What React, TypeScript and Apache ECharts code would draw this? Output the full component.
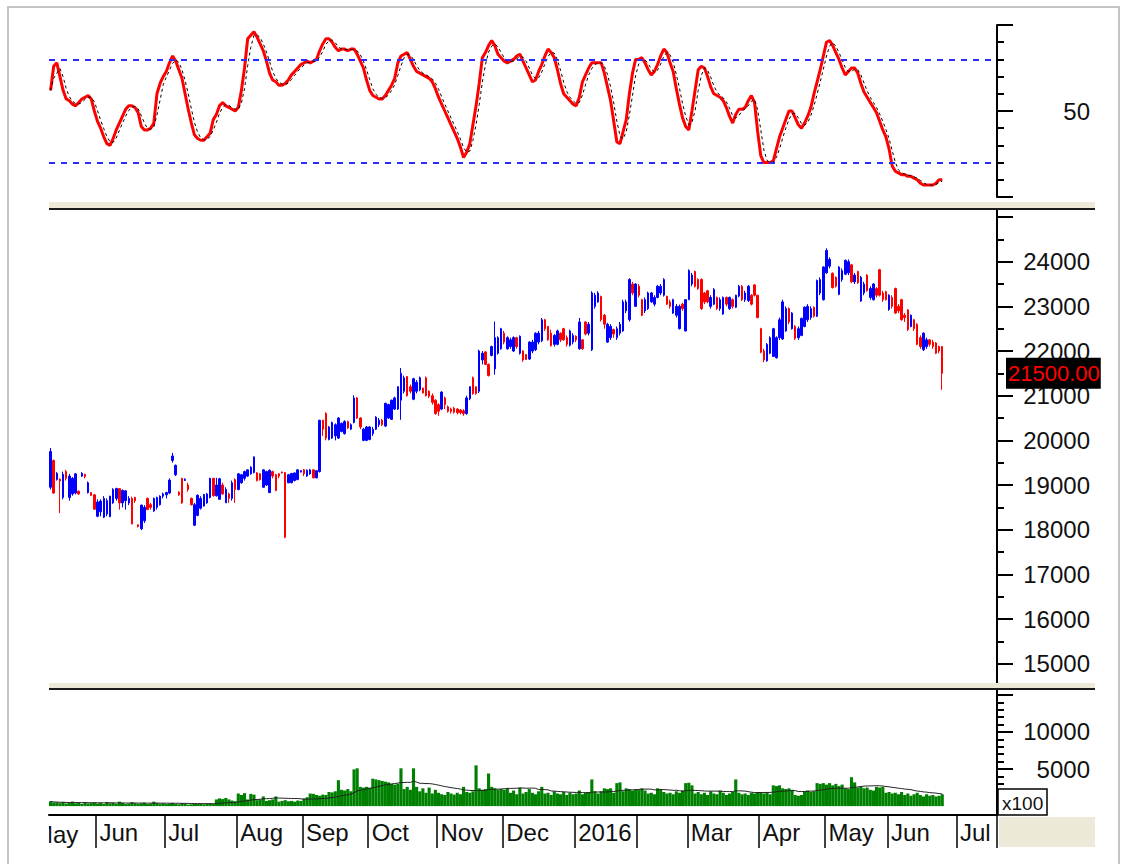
import React, { useEffect, useRef } from 'react';
import * as echarts from 'echarts';

// ---- x axis: trading-day slots per month (first month only partly visible) ----
const monthLabels = ['May', 'Jun', 'Jul', 'Aug', 'Sep', 'Oct', 'Nov', 'Dec', '2016', '', 'Mar', 'Apr', 'May', 'Jun', 'Jul'];
const monthSlots = [15, 22, 23, 21, 21, 22, 21, 23, 20, 16, 23, 21, 20, 22, 13];

// ---- tick labels ----
const stochLabels = [50];
const stochMajorTicks = [0, 50, 100];
const stochMinorTicks = [10, 20, 30, 40, 60, 70, 80, 90];
const stochBands = [80, 20];
const priceLabels = [15000, 16000, 17000, 18000, 19000, 20000, 21000, 22000, 23000, 24000];
const priceMajorTicks = [15000, 16000, 17000, 18000, 19000, 20000, 21000, 22000, 23000, 24000, 25000];
const priceMinorTicks = [14500, 15500, 16500, 17500, 18500, 19500, 20500, 21500, 22500, 23500, 24500];
const volumeLabels = [5000, 10000];
const volumeMajorTicks = [5000, 10000, 15000];
const volumeMinorTicks = [0, 1000, 2000, 3000, 4000, 6000, 7000, 8000, 9000, 11000, 12000, 13000, 14000];
const lastPrice = 21500;

// ---- daily prices: [open, close, low, high] ----
const ohlc: number[][] = [
  // May 2015
  [18950, 19750, 18900, 19830], [19550, 18820, 18800, 19570], [19120, 19260, 19100, 19290], [19130, 19090, 18370, 19150],
  [18720, 19240, 18680, 19300], [19300, 19150, 19100, 19340], [18720, 19200, 18650, 19250], [18800, 19150, 18760, 19180],
  [18820, 19250, 18790, 19270], [18860, 18800, 18780, 18880], [19200, 19260, 19180, 19290], [19240, 19190, 19150, 19250],
  [18830, 19050, 18810, 19080], [18830, 18770, 18750, 18840], [18780, 18460, 18440, 18800],
  // Jun
  [18300, 18620, 18280, 18680], [18400, 18640, 18300, 18680], [18280, 18700, 18260, 18750], [18350, 18650, 18300, 18700],
  [18290, 18750, 18280, 18760], [18600, 18900, 18580, 18930], [18700, 18920, 18650, 18940], [18920, 18600, 18450, 18930],
  [18600, 18880, 18500, 18900], [18650, 18870, 18450, 18880], [18600, 18700, 18550, 18750], [18700, 18130, 18120, 18740],
  [18720, 18650, 18600, 18740], [18110, 18070, 18050, 18120], [18020, 18550, 17990, 18560], [18200, 18500, 18150, 18550],
  [18700, 18450, 18440, 18720], [18560, 18500, 18450, 18600], [18420, 18700, 18400, 18720], [18500, 18720, 18450, 18740],
  [18560, 18750, 18540, 18770], [18750, 18800, 18700, 18830],
  // Jul
  [18780, 18830, 18700, 18850], [18820, 19110, 18800, 19150], [19550, 19650, 19500, 19720], [19230, 19440, 19200, 19460],
  [18840, 18780, 18760, 18860], [19150, 18600, 18580, 19160], [19100, 19130, 19090, 19150], [19000, 18900, 18850, 19050],
  [18700, 18560, 18540, 18720], [18100, 18560, 18080, 18600], [18320, 18770, 18300, 18790], [18480, 18700, 18450, 18750],
  [18530, 18790, 18520, 18800], [18600, 18800, 18580, 18820], [18720, 19150, 18700, 19160], [19150, 18760, 18740, 19160],
  [18760, 19000, 18740, 19160], [18680, 19140, 18670, 19160], [19000, 18800, 18780, 19050], [18600, 18900, 18600, 18950],
  [18800, 18700, 18600, 18830], [18700, 19050, 18650, 19100], [19120, 18900, 18600, 19150],
  // Aug
  [18900, 19250, 18880, 19270], [19050, 19230, 19030, 19250], [19150, 19300, 19100, 19320], [19200, 19340, 19180, 19350],
  [19250, 19400, 19230, 19420], [19280, 19630, 19260, 19640], [19270, 19100, 19080, 19290], [19250, 19120, 19100, 19270],
  [18950, 19340, 18940, 19350], [19000, 19300, 18980, 19320], [18830, 19330, 18820, 19350], [19300, 19200, 19150, 19320],
  [19230, 18880, 18860, 19250], [19250, 19200, 19150, 19270], [19290, 19270, 19260, 19300], [19280, 17830, 17810, 19290],
  [19050, 19230, 19040, 19250], [19050, 19260, 19040, 19270], [19100, 19270, 19080, 19280], [19120, 19340, 19110, 19350],
  [19290, 19320, 19280, 19330],
  // Sep
  [19340, 19250, 19200, 19360], [19200, 19330, 19180, 19350], [19250, 19340, 19230, 19360], [19340, 19160, 19150, 19350],
  [19160, 19320, 19150, 19330], [19300, 20450, 19280, 20460], [20450, 20250, 20100, 20460], [20600, 20050, 20000, 20630],
  [20020, 20300, 20000, 20320], [20050, 20400, 20030, 20420], [20100, 20350, 20000, 20380], [20050, 20500, 20030, 20520],
  [20200, 20380, 20180, 20400], [20150, 20420, 20130, 20450], [20420, 20280, 20250, 20440], [20250, 20350, 20230, 20380],
  [20400, 20950, 20380, 21010], [20950, 20500, 20480, 20970], [20500, 20300, 20250, 20520], [20000, 20250, 19980, 20280],
  [20000, 20300, 19980, 20320],
  // Oct
  [20020, 20300, 20000, 20320], [20150, 20250, 20100, 20300], [20250, 20520, 20230, 20540], [20350, 20450, 20300, 20500],
  [20450, 20350, 20320, 20480], [20320, 20830, 20300, 20840], [20500, 20800, 20480, 20820], [20470, 20900, 20460, 20910],
  [20700, 20950, 20680, 20980], [20700, 21200, 20680, 21210], [20900, 21500, 20460, 21620], [21100, 21400, 21050, 21450],
  [21430, 21000, 20980, 21440], [21200, 21100, 21050, 21250], [20920, 21380, 20900, 21400], [21100, 21300, 21050, 21350],
  [21130, 21400, 21100, 21430], [21170, 21060, 21050, 21180], [21400, 21000, 20980, 21430], [21100, 20990, 20950, 21120],
  [21000, 20850, 20800, 21050], [20900, 20600, 20570, 20920],
  // Nov
  [20800, 20650, 20550, 20830], [20700, 21080, 20680, 21100], [20950, 20800, 20700, 20980], [20750, 20650, 20620, 20780],
  [20700, 20650, 20600, 20730], [20720, 20630, 20600, 20750], [20700, 20620, 20580, 20720], [20680, 20620, 20580, 20700],
  [20660, 20600, 20550, 20700], [20600, 20950, 20570, 21000], [20930, 21200, 20900, 21210], [21400, 21050, 21020, 21430],
  [21200, 21050, 21020, 21210], [21100, 22000, 21060, 22030], [21800, 21950, 21700, 22000], [21980, 21700, 21690, 22000],
  [21700, 21450, 21430, 21720], [21900, 22100, 21880, 22120], [21600, 22300, 21470, 22660], [21950, 22300, 21920, 22330],
  [22050, 22500, 22030, 22520],
  // Dec
  [22400, 22200, 22150, 22450], [22050, 22300, 22030, 22330], [22100, 22250, 22050, 22300], [22000, 22300, 21980, 22330],
  [22300, 22100, 22050, 22320], [21950, 22330, 21920, 22350], [22000, 21800, 21760, 22020], [21920, 21810, 21800, 21930],
  [21820, 22200, 21800, 22220], [22000, 22200, 21950, 22250], [22030, 22400, 22000, 22420], [22200, 22400, 22150, 22450],
  [22230, 22700, 22200, 22740], [22700, 22500, 22450, 22720], [22550, 22250, 22230, 22560], [22400, 22120, 22100, 22480],
  [22150, 22350, 22100, 22380], [22150, 22450, 22130, 22480], [22400, 22250, 22200, 22420], [22500, 22250, 22230, 22520],
  [22300, 22150, 22100, 22350], [22130, 22450, 22100, 22480], [22200, 22350, 22150, 22400],
  // Jan 2016
  [22330, 22250, 22200, 22350], [22050, 22650, 22030, 22740], [22250, 22050, 22030, 22270], [22650, 22380, 22350, 22670],
  [22400, 22600, 22350, 22650], [22030, 23300, 22000, 23340], [23000, 23250, 22950, 23300], [23100, 23300, 23080, 23340],
  [23220, 22700, 22660, 23240], [22800, 22600, 22500, 22830], [22200, 22600, 22180, 22630], [22300, 22550, 22250, 22600],
  [22480, 22380, 22300, 22500], [22300, 22500, 22250, 22550], [22400, 22600, 22350, 22650], [22450, 23100, 22430, 23150],
  [22900, 23100, 22850, 23150], [22700, 23600, 22660, 23630], [23500, 23300, 23250, 23550], [23000, 23500, 22990, 23520],
  // Feb
  [23450, 23250, 23200, 23500], [23150, 22800, 22780, 23170], [22900, 23150, 22850, 23200], [22950, 23300, 22920, 23330],
  [23100, 23300, 23080, 23320], [23050, 23200, 23000, 23250], [23200, 23450, 23180, 23480], [23300, 23450, 23250, 23500],
  [23250, 23600, 23220, 23630], [23220, 23050, 23030, 23240], [23100, 23000, 22950, 23150], [22850, 23150, 22830, 23170],
  [22800, 23000, 22750, 23050], [22500, 23000, 22480, 23040], [23050, 22950, 22900, 23080], [22450, 23150, 22440, 23160],
  // Mar
  [23150, 23800, 23140, 23830], [23500, 23700, 23450, 23750], [23780, 23450, 23420, 23800], [23600, 23400, 23370, 23630],
  [23600, 22950, 22920, 23630], [23300, 23100, 23050, 23320], [23350, 23100, 23070, 23370], [23000, 23200, 22950, 23250],
  [23050, 23380, 23030, 23410], [23200, 22950, 22920, 23220], [22950, 23150, 22900, 23200], [22830, 23200, 22810, 23220],
  [23200, 23050, 23000, 23220], [22950, 23200, 22920, 23220], [23150, 23000, 22950, 23180], [22980, 23250, 22960, 23260],
  [23230, 23450, 23200, 23480], [23450, 23150, 23120, 23480], [23150, 23300, 23100, 23350], [23130, 23450, 23100, 23480],
  [23250, 23050, 23020, 23270], [23480, 23250, 23220, 23500], [23250, 22750, 22730, 23260],
  // Apr
  [22500, 21970, 21950, 22520], [22000, 21800, 21750, 22050], [21780, 22150, 21760, 22180], [21950, 22300, 21930, 22330],
  [21880, 22500, 21870, 22520], [21850, 22300, 21830, 22330], [22300, 22700, 22250, 22750], [22270, 23100, 22250, 23150],
  [22450, 22950, 22430, 23000], [22950, 22650, 22600, 22980], [22500, 22850, 22480, 22870], [22550, 22280, 22250, 22580],
  [22300, 22500, 22250, 22550], [22350, 22730, 22330, 22750], [22550, 22980, 22530, 23000], [22700, 23000, 22650, 23050],
  [22750, 22950, 22700, 23000], [22980, 22780, 22750, 23000], [22780, 23580, 22760, 23600], [23300, 23600, 23250, 23650],
  [23150, 23880, 23130, 23900],
  // May
  [23750, 24250, 23730, 24300], [23900, 24050, 23850, 24100], [23740, 23420, 23400, 23760], [23650, 23450, 23420, 23670],
  [23270, 23880, 23250, 23900], [23600, 23800, 23550, 23850], [23720, 24030, 23700, 24050], [23750, 24000, 23700, 24050],
  [23930, 23550, 23520, 23950], [23550, 23700, 23500, 23750], [23780, 23530, 23500, 23800], [23120, 23650, 23100, 23680],
  [23300, 23500, 23250, 23550], [23700, 23350, 23330, 23720], [23200, 23400, 23150, 23450], [23150, 23500, 23130, 23520],
  [23400, 23250, 23200, 23430], [23820, 23250, 23220, 23840], [23300, 23150, 23100, 23350], [23330, 23150, 23130, 23350],
  // Jun
  [22930, 23250, 22900, 23270], [23200, 23000, 22950, 23250], [23400, 22850, 22830, 23420], [23000, 22900, 22850, 23050],
  [23150, 22700, 22680, 23170], [22800, 22750, 22650, 22850], [22920, 22480, 22450, 22940], [22550, 22800, 22530, 22820],
  [22700, 22500, 22450, 22720], [22600, 22150, 22130, 22620], [22300, 22100, 22050, 22350], [22030, 22400, 22000, 22420],
  [22100, 22250, 22050, 22300], [22250, 22150, 22100, 22260], [22200, 22100, 22050, 22250], [22180, 21950, 21930, 22200],
  [22100, 22000, 21950, 22120], [22100, 21500, 21130, 22110],
];

// ---- daily volume (x100) ----
const volume = [
  650, 480, 520, 400, 560, 350, 420, 600, 380, 450, 300, 520, 360, 410, 480,
  350, 420, 300, 560, 380, 450, 320, 600, 420, 280, 350, 520, 400, 300, 380, 450, 280, 350, 600, 420, 300, 380,
  280, 350, 420, 300, 250, 380, 300, 200, 250, 300, 280, 320, 250, 300, 350, 280, 900, 1050, 950, 1100, 900, 750, 650,
  1700, 1500, 1750, 900, 1650, 1550, 800, 900, 1300, 700, 800, 900, 1300, 600, 700, 800, 650, 700, 600, 750, 700,
  1000, 1200, 1700, 1650, 1500, 1400, 1550, 1500, 1900, 1850, 2000, 3500, 2200, 2100, 2300, 2000, 4950, 5100, 2600, 2500, 2600,
  2500, 3700, 3600, 3500, 3400, 3300, 3200, 3000, 2900, 3000, 5100, 2300, 2600, 2200, 5100, 2600, 2000, 2400, 1800, 2500, 1700, 2200,
  1800, 1600, 1500, 1900, 1700, 1550, 1800, 1600, 2600, 1900, 1800, 2000, 5500, 2400, 2200, 2300, 4400, 2600, 2400, 2200, 2300,
  2200, 2400, 1800, 2100, 1600, 2500, 1700, 1900, 2300, 1800, 1600, 2000, 2600, 1700, 1800, 1500, 2000, 1700, 1600, 1900, 1500, 1800, 1600,
  1700, 2100, 1600, 1800, 1900, 3600, 2000, 1700, 2000, 2400, 2300, 2400, 1800, 3100, 3200, 2000, 2400, 2300, 2100, 2200,
  2200, 2400, 2100, 1700, 1800, 1600, 2400, 2300, 1900, 1700, 1800, 1600, 2000, 1800, 2100, 3100,
  3150, 2800, 1700, 1900, 1600, 1800, 1500, 2000, 1700, 1600, 2100, 1800, 1500, 1700, 1900, 3600, 1800, 1600, 1700, 1500, 1800, 1700, 1900,
  1900, 1700, 1800, 1600, 2800, 2700, 2800, 2400, 2300, 2400, 2200, 1500, 1400, 1500, 2000, 2100, 1900, 2000, 3100, 3000, 3100,
  2900, 3100, 2800, 3000, 2700, 2900, 2400, 2300, 3900, 3200, 2500, 2600, 2400, 2500, 2200, 2100, 2600, 2500, 2600, 1800,
  1900, 1700, 1800, 1600, 1900, 1500, 1700, 1400, 1600, 1800, 1500, 1300, 1600, 1400, 1500, 1300, 1400, 1600,
];

// ---- stochastic %K ----
const stochK = [
  62, 76, 78, 70, 62, 57, 56, 54, 53, 55, 57, 58, 59, 57, 50,
  44, 40, 35, 31, 30, 34, 39, 43, 47, 51, 53, 53, 52, 49, 41, 39, 39, 40, 43, 60, 66, 70,
  73, 78, 82, 79, 74, 69, 60, 51, 43, 36, 34, 33, 33, 35, 37, 45, 48, 53, 55, 53, 52, 51, 50,
  52, 62, 75, 92, 94, 96, 93, 89, 85, 79, 72, 68, 67, 65, 65, 66, 68, 71, 73, 75, 77,
  78, 79, 78, 79, 80, 85, 89, 92, 92, 90, 87, 85, 86, 86, 85, 86, 86, 83, 79, 75, 68,
  62, 59, 58, 57, 57, 59, 62, 65, 69, 78, 82, 83, 84, 80, 76, 73, 72, 71, 70, 69, 67, 63,
  58, 54, 50, 46, 42, 38, 34, 29, 23, 26, 31, 42, 53, 66, 81, 84, 88, 91, 88, 83, 81,
  79, 78, 79, 80, 82, 83, 79, 75, 71, 67, 68, 73, 77, 82, 86, 84, 81, 74, 66, 60, 58, 56, 54,
  53, 58, 67, 71, 75, 78, 78, 78, 78, 72, 64, 56, 44, 32, 31, 38, 45, 60, 72, 80,
  80, 81, 78, 74, 71, 73, 77, 82, 86, 84, 78, 73, 63, 54, 46, 41,
  39, 50, 62, 74, 76, 75, 70, 64, 60, 59, 58, 56, 52, 47, 43, 48, 51, 51, 52, 56, 59, 55, 38,
  24, 20, 20, 20, 21, 28, 35, 40, 45, 50, 50, 46, 42, 40, 43, 47, 52, 60, 67, 74, 82,
  90, 91, 88, 84, 80, 75, 71, 73, 75, 75, 72, 66, 61, 58, 55, 52, 49, 44, 39, 35,
  28, 18, 15, 14, 13, 13, 12, 12, 11, 10, 8, 7, 7, 7, 7, 8, 10, 10,
];

const FONT = '"Liberation Sans", Arial, sans-serif';

function sma(arr: number[], n: number): number[] {
  return arr.map((_, i) => {
    const s = Math.max(0, i - n + 1);
    let t = 0;
    for (let k = s; k <= i; k++) t += arr[k];
    return Math.round((t / (i - s + 1)) * 10) / 10;
  });
}

const categories: string[] = [];
const isMonthStart: boolean[] = [];
monthLabels.forEach((_, mi) => {
  for (let d = 0; d < monthSlots[mi]; d++) {
    categories.push(`${mi}|${d}`);
    isMonthStart.push(d === 0 && mi > 0);
  }
});

const stochD = sma(stochK, 3);
const volumeMA = sma(volume, 20);

function valueAxis(grid: number, min: number, max: number, major: number[], labels: number[]) {
  return {
    type: 'value', gridIndex: grid, min, max, position: 'right',
    splitLine: { show: false },
    axisLine: { show: true, lineStyle: { color: '#000', width: 2 } },
    axisTick: { show: true, length: 16, customValues: major, lineStyle: { color: '#000', width: 2 } },
    axisLabel: {
      show: true, customValues: labels, align: 'right', margin: 93,
      fontSize: 24, color: '#111', fontFamily: FONT,
      formatter: (v: number) => String(v),
    },
  };
}
function minorAxis(grid: number, min: number, max: number, minor: number[]) {
  return {
    type: 'value', gridIndex: grid, min, max, position: 'right',
    splitLine: { show: false },
    axisLine: { show: false },
    axisTick: { show: true, length: 7, customValues: minor, lineStyle: { color: '#000', width: 2 } },
    axisLabel: { show: false },
  };
}

const monthTick = (index: number) => !!isMonthStart[index];

const option: any = {
  animation: false,
  textStyle: { fontFamily: FONT },
  grid: [
    { left: 49, right: 126, top: 25, height: 172 },
    { left: 49, right: 126, top: 209, height: 477 },
    { left: 49, right: 126, top: 689, height: 126 },
  ],
  xAxis: [
    { type: 'category', gridIndex: 0, data: categories, boundaryGap: true, show: false },
    { type: 'category', gridIndex: 1, data: categories, boundaryGap: true, show: false },
    {
      type: 'category', gridIndex: 2, data: categories, boundaryGap: true,
      axisLine: { onZero: false, lineStyle: { color: '#000', width: 2 } },
      axisTick: { show: true, interval: monthTick, length: 33, lineStyle: { color: '#000', width: 1.5 } },
      axisLabel: {
        show: true, interval: monthTick, align: 'left', margin: 5, padding: [0, 0, 0, 2],
        fontSize: 24, color: '#111', fontFamily: FONT,
        formatter: (v: string) => monthLabels[Number(v.split('|')[0])],
      },
      splitLine: { show: false },
    },
  ],
  yAxis: [
    valueAxis(0, 0, 100, stochMajorTicks, stochLabels),
    minorAxis(0, 0, 100, stochMinorTicks),
    valueAxis(1, 14500, 25180, priceMajorTicks, priceLabels),
    minorAxis(1, 14500, 25180, priceMinorTicks),
    valueAxis(2, -1200, 15800, volumeMajorTicks, volumeLabels),
    minorAxis(2, -1200, 15800, volumeMinorTicks),
  ],
  series: [
    {
      name: 'bands', type: 'line', xAxisIndex: 0, yAxisIndex: 0, data: [], z: 1,
      markLine: {
        silent: true, symbol: 'none', label: { show: false },
        lineStyle: { color: '#2b2bff', type: [6, 6], width: 2 },
        data: stochBands.map((v) => ({ yAxis: v })),
      },
    },
    {
      name: '%K', type: 'line', xAxisIndex: 0, yAxisIndex: 0, data: stochK, z: 3,
      symbol: 'none', lineStyle: { color: '#ff0000', width: 3 },
    },
    {
      name: '%D', type: 'line', xAxisIndex: 0, yAxisIndex: 0, data: stochD, z: 4,
      symbol: 'none', lineStyle: { color: '#000', width: 1, type: [3, 3] },
    },
    {
      name: 'price', type: 'candlestick', xAxisIndex: 1, yAxisIndex: 2, data: ohlc, clip: false,
      barWidth: 2, z: 3,
      itemStyle: {
        color: '#0000ff', color0: '#ff0000', borderColor: '#0000ff', borderColor0: '#ff0000',
        borderColorDoji: '#0000ff', borderWidth: 1,
      },
      markLine: {
        silent: true, symbol: 'none',
        lineStyle: { color: 'rgba(0,0,0,0)', width: 0 },
        label: {
          show: true, position: 'end', distance: 9,
          formatter: (p: any) => Number(p.value).toFixed(2),
          color: '#ff0000', backgroundColor: '#000', fontSize: 22, fontFamily: FONT,
          padding: [5, 1, 4, 2],
        },
        data: [{ yAxis: lastPrice }],
      },
    },
    {
      name: 'volume', type: 'bar', xAxisIndex: 2, yAxisIndex: 4, data: volume,
      barCategoryGap: '0%', itemStyle: { color: '#008000' }, z: 2,
    },
    {
      name: 'volMA', type: 'line', xAxisIndex: 2, yAxisIndex: 4, data: volumeMA,
      symbol: 'none', lineStyle: { color: '#222', width: 1 }, z: 3,
    },
  ],
  graphic: [
    { type: 'rect', z: 100, shape: { x: 8, y: 7, width: 1111, height: 900 }, style: { fill: 'none', stroke: '#c4c4c4', lineWidth: 2 } },
    { type: 'rect', z: 100, shape: { x: 49, y: 202, width: 1046, height: 6 }, style: { fill: '#ece9d8' } },
    { type: 'rect', z: 100, shape: { x: 49, y: 208, width: 1046, height: 2 }, style: { fill: '#1c1c1c' } },
    { type: 'rect', z: 100, shape: { x: 49, y: 683, width: 1046, height: 5 }, style: { fill: '#ece9d8' } },
    { type: 'rect', z: 100, shape: { x: 49, y: 688, width: 1046, height: 2 }, style: { fill: '#1c1c1c' } },
    { type: 'rect', z: 100, shape: { x: 999, y: 817, width: 96, height: 30 }, style: { fill: '#ece9d8' } },
    { type: 'rect', z: 100, shape: { x: 998, y: 789, width: 49, height: 26 }, style: { fill: '#fff', stroke: '#000', lineWidth: 1.5 } },
    { type: 'text', z: 101, x: 1002, y: 803, style: { text: 'x100', fill: '#111', font: `19px ${FONT}`, textVerticalAlign: 'middle', verticalAlign: 'middle' } },
    { type: 'text', z: 100, x: 33, y: 822, style: { text: monthLabels[0], fill: '#111', font: `24px ${FONT}`, textVerticalAlign: 'top', verticalAlign: 'top' } },
    { type: 'rect', z: 101, shape: { x: 10, y: 817, width: 39, height: 34 }, style: { fill: '#fff' } },
  ],
};

export default function App() {
  const ref = useRef<HTMLDivElement>(null);
  useEffect(() => {
    if (!ref.current) return;
    const chart = echarts.init(ref.current, undefined, { renderer: 'svg' });
    chart.setOption(option);
    return () => chart.dispose();
  }, []);
  return (
    <div
      ref={ref}
      style={{ position: 'absolute', left: 0, top: 0, width: 1123, height: 864, background: '#fff' }}
    />
  );
}
